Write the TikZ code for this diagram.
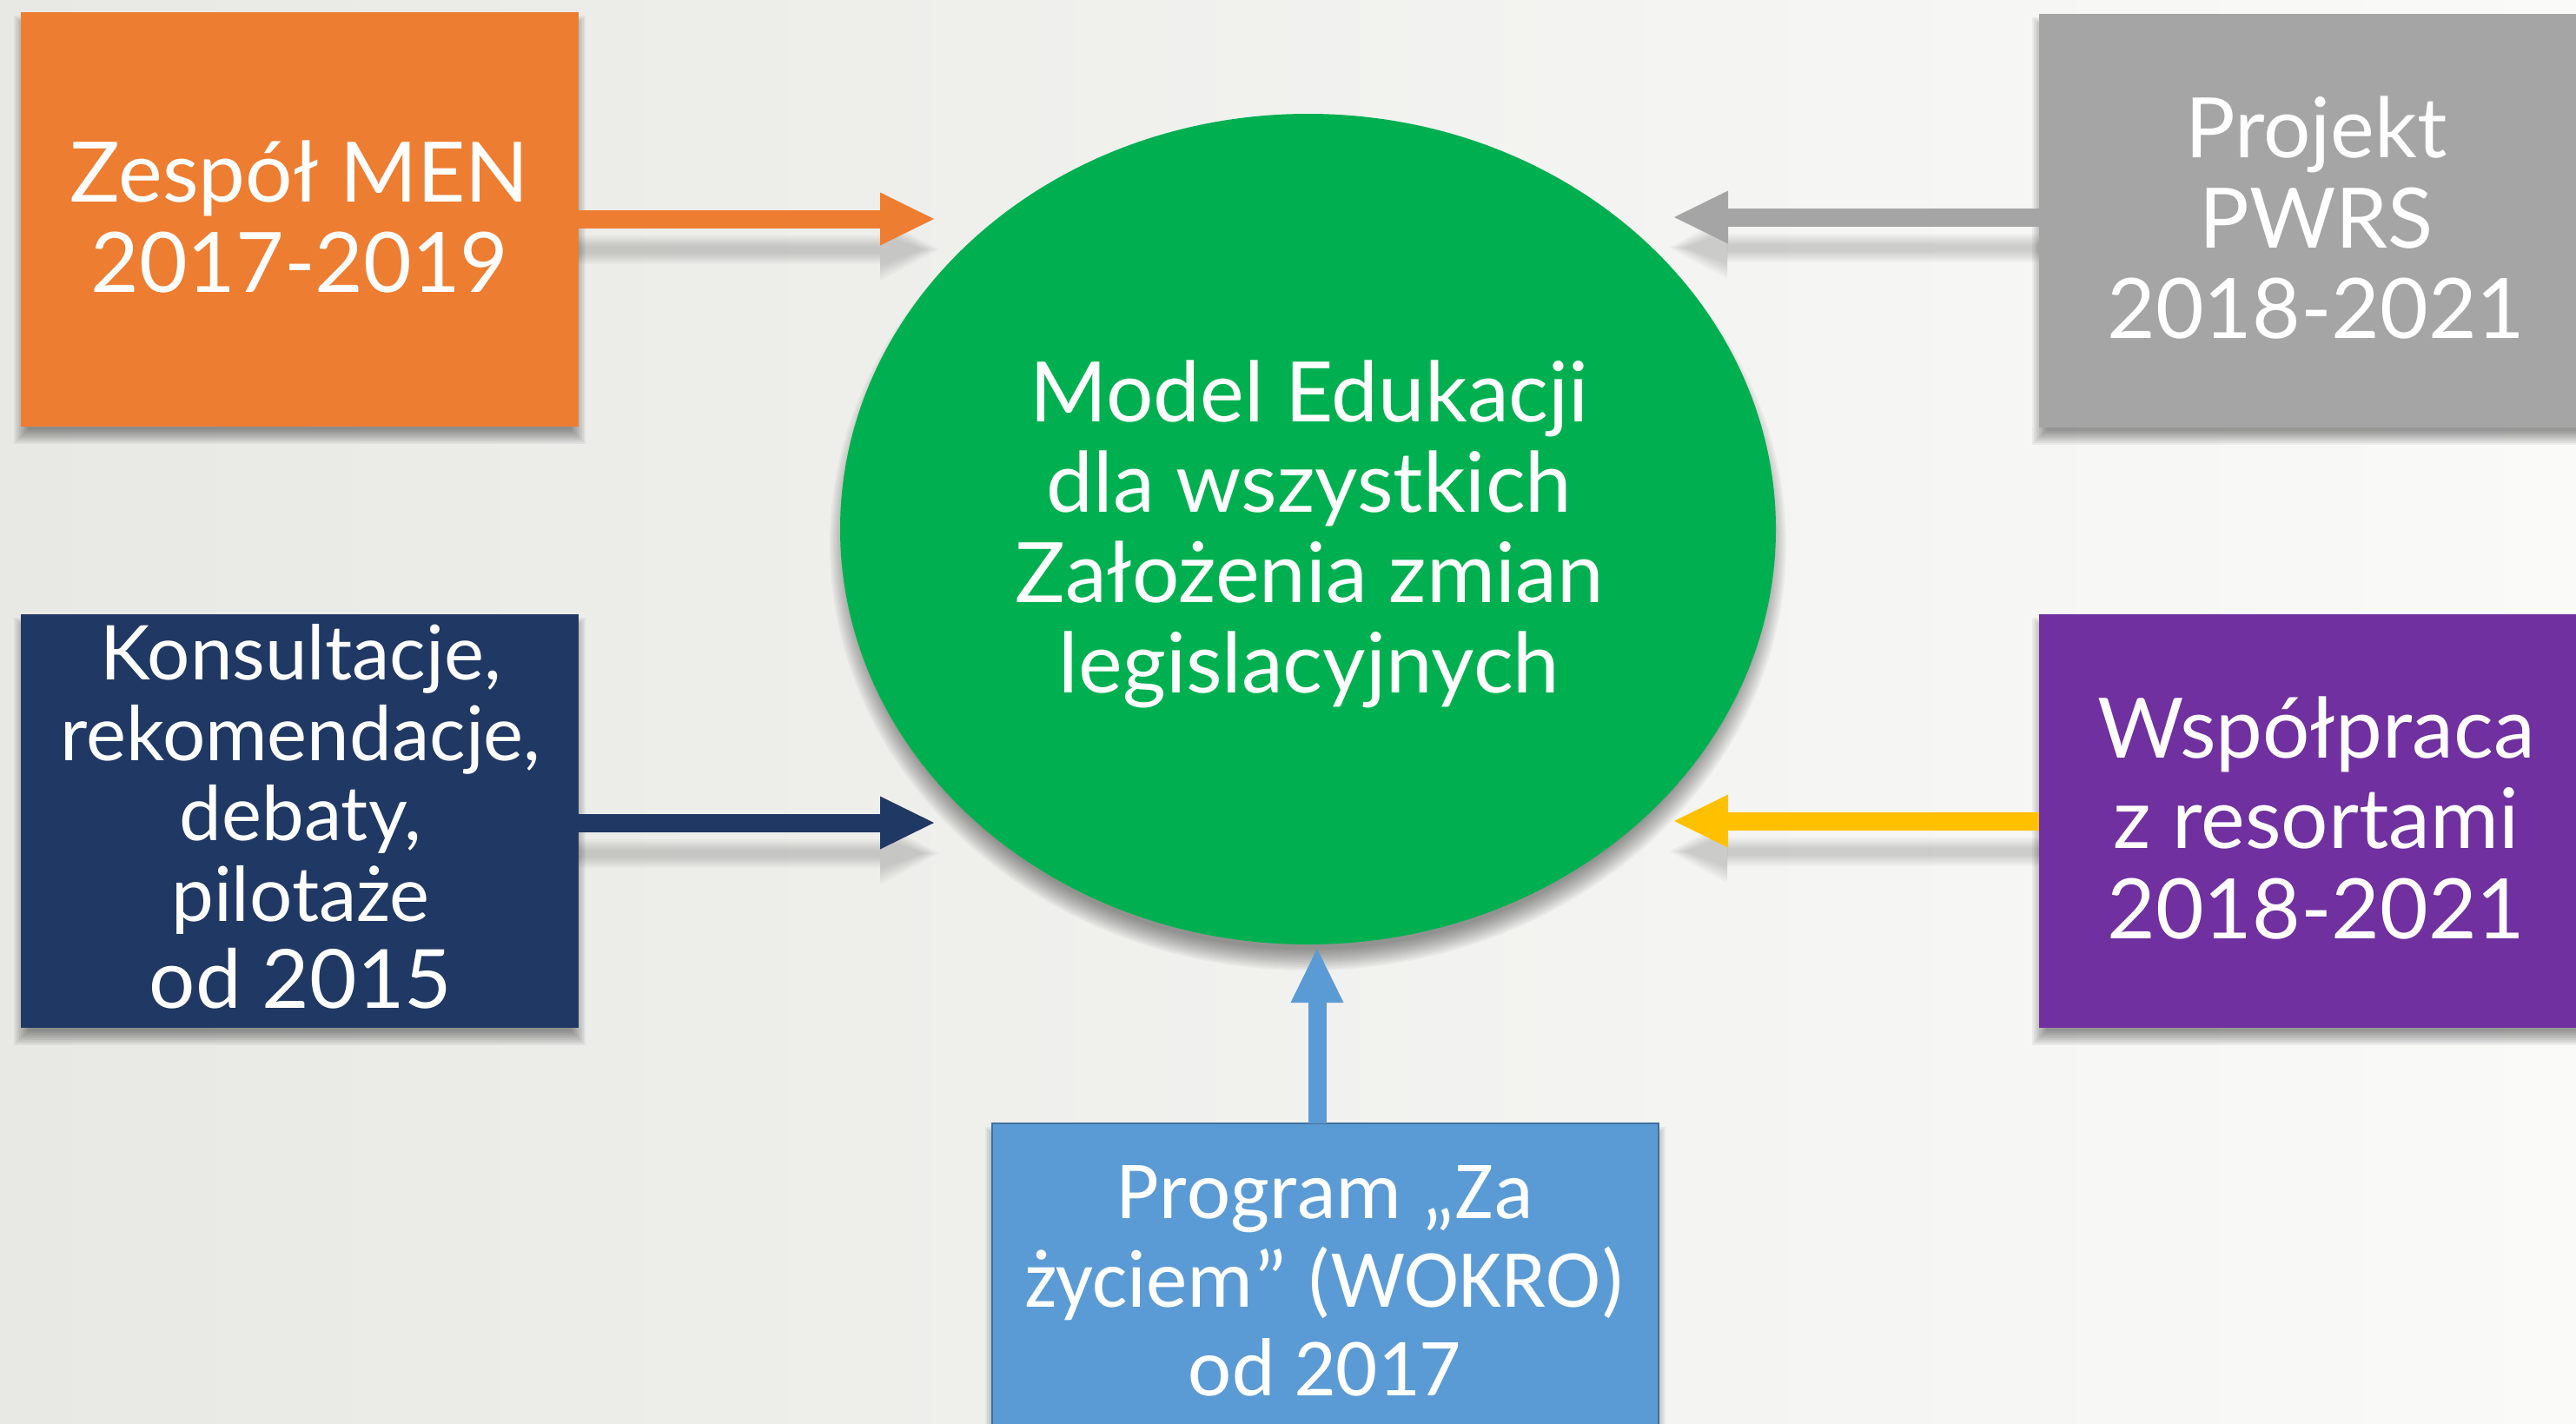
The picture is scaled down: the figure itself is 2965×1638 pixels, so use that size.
\documentclass[tikz,border=0pt]{standalone}
\usepackage{fontspec}
\setmainfont{Lato}
\newfontfamily\calibrifont{Carlito}
\usetikzlibrary{arrows.meta,shapes.geometric}
\definecolor{cOrange}{HTML}{ED7D31}
\definecolor{cGray}{HTML}{A5A5A5}
\definecolor{cNavy}{HTML}{203864}
\definecolor{cPurple}{HTML}{7030A0}
\definecolor{cGreen}{HTML}{00B050}
\definecolor{cBlue}{HTML}{5B9BD5}
\definecolor{cBlueEdge}{HTML}{41719C}
\definecolor{cYellow}{HTML}{FFC000}
\definecolor{bgL}{HTML}{E8E8E4}
\definecolor{bgR}{HTML}{FAFAF9}

% soft shadow of a rectangle: x1 y1 x2 y2 dy
\newcommand\rectshadow[5]{%
  \foreach \k in {0,...,8}{%
    \fill[black,opacity=0.05] ({#1+8-2*\k}, {#2+8+#5-2*\k}) rectangle ({#3-8+2*\k}, {#4-8+#5+2*\k});
  }}
% soft shadow of a horizontal arrow: start x, head base x, tip x, y, sign
\newcommand\arrowshadow[5]{%
  \foreach \k in {0,...,6}{%
    \draw[black,opacity=0.025,line width={9+4*\k}] ({#1},{#4+35}) -- ({#2},{#4+35});
    \fill[black,opacity=0.025] ({#2},{#4+35-18.5-3*\k}) -- ({#3-(#5)*12+(#5)*\k*3},{#4+35}) -- ({#2},{#4+35+18.5+3*\k}) -- cycle;
  }}

\begin{document}
\begin{tikzpicture}[x=1pt,y=-1pt,
  boxshape/.style={rectangle, inner sep=0pt, outer sep=0pt},
  lbl/.style={text=white, align=center, inner sep=0pt, anchor=base},
  bigfont/.style={font={\fontsize{96}{104}\selectfont}},
  conn/.style={line width=21pt, -{Triangle[length=62pt,width=61pt,line width=0pt]}},
]
\useasboundingbox (0,0) rectangle (2965,1638);
\clip (0,0) rectangle (2965,1638);
\shade[left color=bgL,right color=bgR] (0,0) rectangle (2965,1638);

% shadows
\rectshadow{24}{14}{666}{491}{12}
\rectshadow{24}{707}{666}{1183}{12}
\rectshadow{2347}{16}{3050}{492}{12}
\rectshadow{2347}{707}{3050}{1183}{12}
\rectshadow{1142}{1293}{1909}{1750}{12}
\foreach \k in {0,...,12}{%
  \fill[black,opacity=0.035] (1505.5,627) ellipse [x radius={526.5+2*\k}, y radius={466+2*\k}];
}
\arrowshadow{666}{1013}{1075}{252}{1}
\arrowshadow{666}{1013}{1075}{947}{1}
\arrowshadow{2347}{1988}{1927}{250}{-1}
\arrowshadow{2347}{1988}{1927}{945}{-1}

% central ellipse (text anchored at the baseline of its last line)
\node[ellipse, fill=cGreen, inner sep=0pt, minimum width=1077, minimum height=956] (model) at (1505.5,609) {};
\node[lbl, bigfont] (modelT) at (1507,797) {Model Edukacji\\dla wszystkich\\Założenia zmian\\legislacyjnych};

% boxes
\node[boxshape, fill=cOrange, minimum width=642, minimum height=477] (zesp) at (345,252.5) {};
\node[lbl, bigfont] (zespT) at (345,336) {Zespół MEN\\2017-2019};

\node[boxshape, fill=cNavy, minimum width=642, minimum height=476] (kons) at (345,945) {};
\node[lbl, font={\fontsize{87}{92.5}\selectfont}] (konsT) at (346,1060) {Konsultacje,\\rekomendacje,\\debaty,\\pilotaże};
\node[lbl, font={\fontsize{94}{100}\selectfont}] (konsY) at (346,1160) {od 2015};

\node[boxshape, fill=cGray, minimum width=703, minimum height=476, anchor=west] (proj) at (2347,254) {};
\node[lbl, bigfont] (projT) at (2666,389) {Projekt\\PWRS\\2018-2021};

\node[boxshape, fill=cPurple, minimum width=703, minimum height=476, anchor=west] (wsp) at (2347,945) {};
\node[lbl, bigfont] (wspT) at (2666,1080) {Współpraca\\z resortami\\2018-2021};

\node[boxshape, fill=cBlue, draw=cBlueEdge, line width=2pt, minimum width=767, minimum height=460, anchor=north] (prog) at (1525.5,1293) {};
\node[lbl, font={\calibrifont\fontsize{95}{102}\selectfont}] (progT) at (1525,1606) {Program „Za\\życiem” (WOKRO)\\od 2017};

% connector tips
\coordinate (tA) at (1075,252);
\coordinate (tB) at (1075,947);
\coordinate (tC) at (1927,250);
\coordinate (tD) at (1927,945);
\coordinate (tE) at (1516,1092);

\draw[conn, cOrange] (zesp.east |- tA) -- (tA);
\draw[conn, cNavy] (kons.east |- tB) -- (tB);
\draw[conn, cGray] (proj.west |- tC) -- (tC);
\draw[conn, cYellow] (wsp.west |- tD) -- (tD);
\draw[conn, cBlue] (tE |- prog.north) -- (tE);
\end{tikzpicture}
\end{document}
